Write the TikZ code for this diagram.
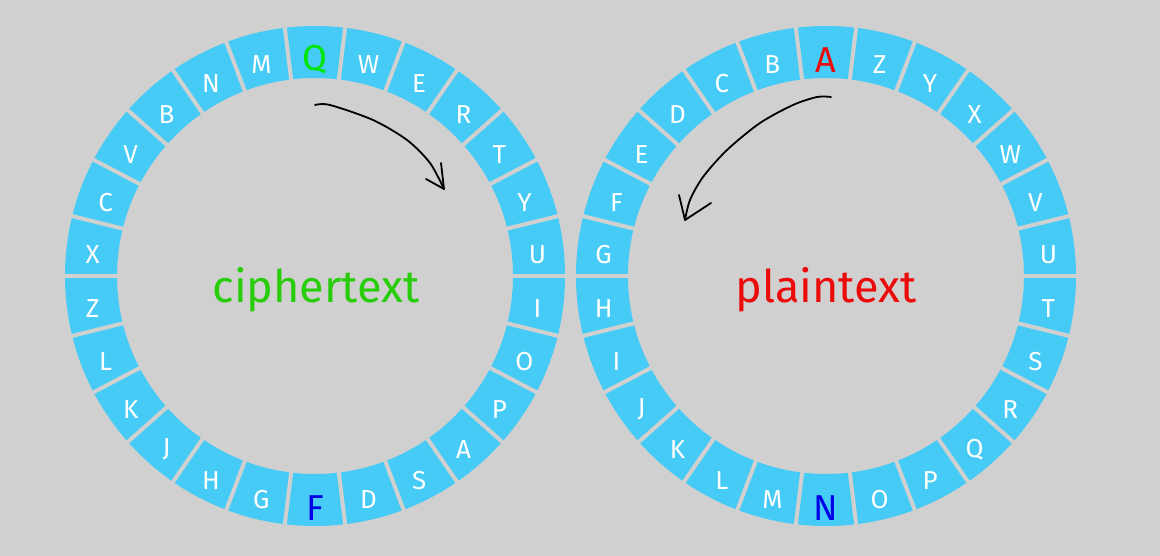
\documentclass[tikz,border=0pt]{standalone}
\usepackage{fontspec}
\setmainfont{Fira Sans}
\definecolor{bg}{RGB}{208,208,208}
\definecolor{ringc}{RGB}{69,203,245}
\definecolor{qgreen}{RGB}{0,230,0}
\definecolor{cgreen}{RGB}{40,205,10}
\definecolor{pred}{RGB}{235,10,10}
\definecolor{fblue}{RGB}{0,0,230}
\begin{document}
\begin{tikzpicture}[x=1pt,y=-1pt,
  letter/.style={text=white,inner sep=0pt,yshift=-6pt,font=\fontsize{26}{26}\selectfont},
  hilite/.style={inner sep=0pt,yshift=-8pt,font=\fontsize{36}{36}\selectfont},
  bigword/.style={inner sep=0pt,anchor=base,font=\fontsize{45}{45}\selectfont},
  gapline/.style={bg,line width=4pt},
  hand/.style={black,line width=1.8pt,line cap=round,line join=round}]
\fill[bg] (0,0) rectangle (1160,556);
\useasboundingbox (0,0) rectangle (1160,556);
\coordinate (cl) at (315,276);
\coordinate (cr) at (826,276);
\foreach \c in {cl,cr}{
  \fill[ringc,even odd rule] (\c) circle (250pt) (\c) circle (198pt);
  \foreach \k in {0,...,25}
    \draw[gapline] (\c) ++({\k*13.846}:190) -- ++({\k*13.846}:72);
}
% left ring letters
\foreach \l [count=\i from 0] in {Q,W,E,R,T,Y,U,I,O,P,A,S,D,F,G,H,J,K,L,Z,X,C,V,B,N,M}{
  \ifnum\i=0 \else\ifnum\i=13 \else
    \path (cl) ++({-90+\i*13.846}:224) node[letter] (L\i) {\l};
  \fi\fi
}
\foreach \l [count=\i from 0] in {A,Z,Y,X,W,V,U,T,S,R,Q,P,O,N,M,L,K,J,I,H,G,F,E,D,C,B}{
  \ifnum\i=0 \else\ifnum\i=13 \else
    \path (cr) ++({-90+\i*13.846}:224) node[letter] (R\i) {\l};
  \fi\fi
}
\path (cl) ++(-90:224) node[hilite,text=qgreen] (L0) {Q};
\path (cl) ++(90:224) node[hilite,text=fblue] (L13) {F};
\path (cr) ++(-90:224) node[hilite,text=pred] (R0) {A};
\path (cr) ++(90:224) node[hilite,text=fblue] (R13) {N};
\node[bigword,text=cgreen] (ct) at (316,302) {ciphertext};
\node[bigword,text=pred] (pt) at (826,302) {plaintext};
% hand drawn arrows
\coordinate (ls) at (315,105);
\coordinate (lt) at (444,189);
\coordinate (lb1) at (426,179);
\coordinate (lb2) at (441,163);
\draw[hand] plot[smooth] coordinates {(ls) (330,105) (373,120) (407,140) (430,163) (lt)};
\draw[hand] (lb1) -- (lt) -- (lb2);
\coordinate (rs) at (831,97);
\coordinate (rt) at (685,220);
\coordinate (rb1) at (679,195);
\coordinate (rb2) at (711,203);
\draw[hand] plot[smooth] coordinates {(rs) (817,97) (793,105) (760,123) (727,150) (703,177) (690,200) (rt)};
\draw[hand] (rb1) -- (rt) -- (rb2);
\end{tikzpicture}
\end{document}
